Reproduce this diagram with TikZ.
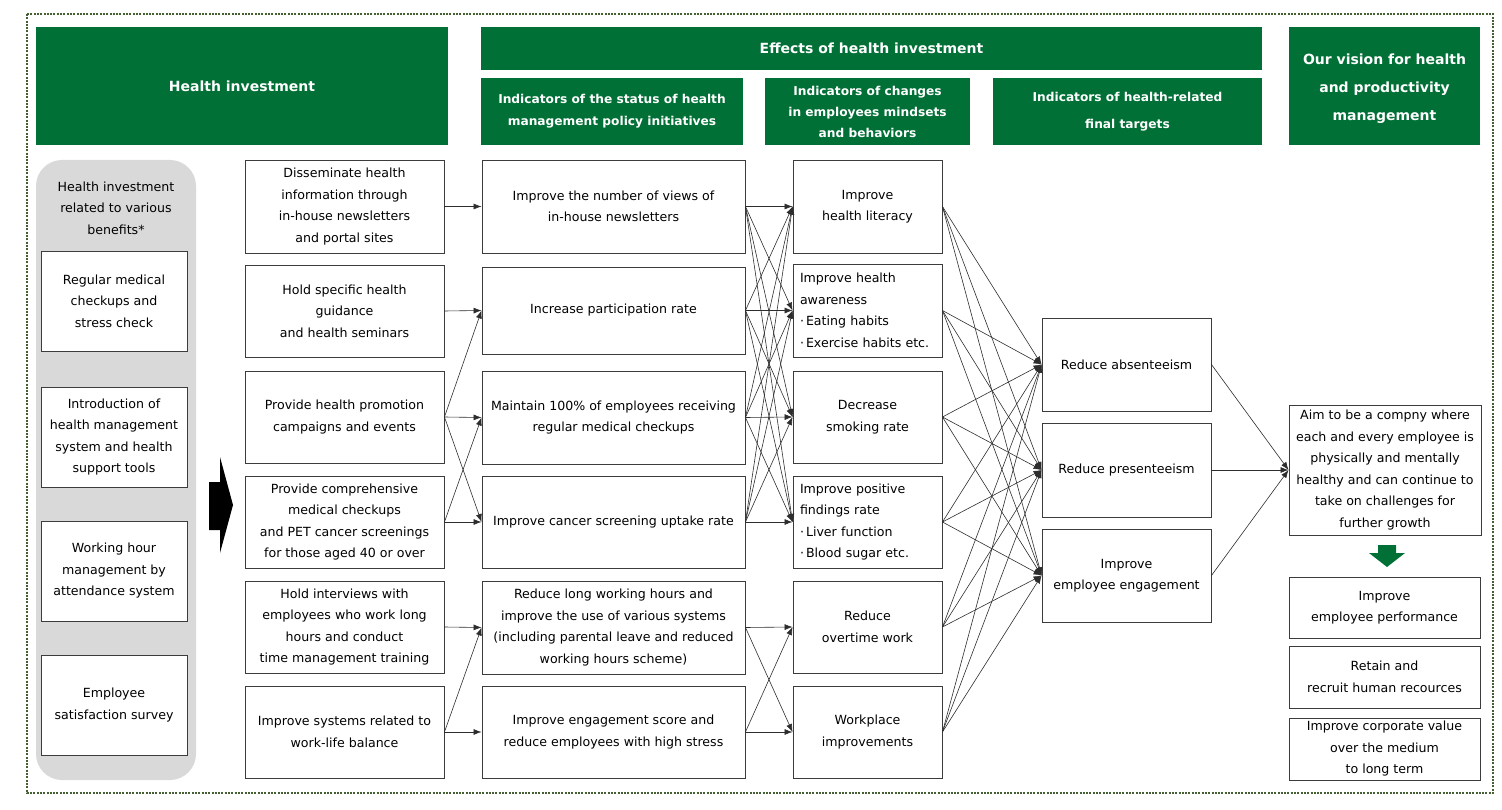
\documentclass[tikz,border=0pt]{standalone}
\usepackage{fontspec}
\setmainfont{DejaVu Sans}
\usetikzlibrary{arrows.meta}
\definecolor{hgreen}{RGB}{0,112,54}
\definecolor{frame}{RGB}{70,95,50}
\definecolor{panelgray}{RGB}{217,217,217}
\definecolor{edge}{RGB}{45,45,45}
\definecolor{boxline}{RGB}{60,60,60}
\begin{document}
\begin{tikzpicture}[x=1pt,y=-1pt,
  txt/.style={font=\fontsize{12.6}{21.5}\selectfont},
  box/.style={draw=boxline,line width=0.9pt,fill=white,inner sep=0pt,align=center,txt},
  lbox/.style={draw=boxline,line width=0.9pt,fill=white,inner xsep=7pt,inner ysep=0pt,align=left,text width=135pt,txt},
  hdr/.style={fill=hgreen,draw=none,text=white,inner sep=0pt,align=center,font=\bfseries\fontsize{14}{28}\selectfont},
  shdr/.style={fill=hgreen,draw=none,text=white,inner sep=0pt,align=center,font=\bfseries\fontsize{12.2}{#1}\selectfont},
  link/.style={draw=edge,line width=0.6pt,-{Latex[length=8pt,width=6pt]}},
]
\useasboundingbox (0,0) rectangle (1502,810);
% outer frame
\draw[frame,line width=2.5pt,dash pattern=on 2pt off 1.3pt] (27,14) rectangle (1493,793);

% headers
\node[hdr,minimum width=412pt,minimum height=118pt] (H1) at (242,86) {Health investment};
\node[hdr,minimum width=781pt,minimum height=43pt] (H2) at (871.5,48.5) {Effects of health investment};
\node[shdr=22,minimum width=262pt,minimum height=67pt] (H3) at (612,111.5) {Indicators of the status of health\\management policy initiatives};
\node[shdr=21,minimum width=205pt,minimum height=67pt] (H4) at (867.5,111.5) {Indicators of changes\\in employees mindsets\\and behaviors};
\node[shdr=27,minimum width=269pt,minimum height=67pt] (H5) at (1127.5,111.5) {Indicators of health-related\\final targets};
\fill[hgreen] (1289,27) rectangle (1480,145);
\node[hdr,fill=none,inner sep=0pt] (H6) at (1384.5,89) {Our vision for health\\and productivity\\management};

% gray panel
\fill[panelgray,rounded corners=26pt] (36,160) rectangle (196,780);
\node[txt,align=center,inner sep=0pt] (ptext) at (116,208) {Health investment\\related to various\\benefits*};
\node[box,minimum width=146pt,minimum height=100pt] (G1) at (114,301) {Regular medical\\checkups and\\stress check};
\node[box,minimum width=146pt,minimum height=100pt] (G2) at (114,437) {Introduction of\\health management\\system and health\\support tools};
\node[box,minimum width=146pt,minimum height=100pt] (G3) at (114,571) {Working hour\\management by\\attendance system};
\node[box,minimum width=146pt,minimum height=100pt] (G4) at (114,705) {Employee\\satisfaction survey};

% black arrow
\fill[black] (209,482) -- (220,482) -- (220,457) -- (233,505) -- (220,553) -- (220,530) -- (209,530) -- cycle;

% column A
\node[box,minimum width=199pt,minimum height=93pt] (A1) at (344.5,206.5) {Disseminate health\\information through\\in-house newsletters\\and portal sites};
\node[box,minimum width=199pt,minimum height=92pt] (A2) at (344.5,311) {Hold specific health\\guidance\\and health seminars};
\node[box,minimum width=199pt,minimum height=92pt] (A3) at (344.5,417) {Provide health promotion\\campaigns and events};
\node[box,minimum width=199pt,minimum height=92pt] (A4) at (344.5,522) {Provide comprehensive\\medical checkups\\and PET cancer screenings\\for those aged 40 or over};
\node[box,minimum width=199pt,minimum height=92pt] (A5) at (344.5,627) {Hold interviews with\\employees who work long\\hours and conduct\\time management training};
\node[box,minimum width=199pt,minimum height=92pt] (A6) at (344.5,732) {Improve systems related to\\work-life balance};

% column B
\node[box,minimum width=263pt,minimum height=93pt] (B1) at (613.5,206.5) {Improve the number of views of\\in-house newsletters};
\node[box,minimum width=263pt,minimum height=87pt] (B2) at (613.5,310.5) {Increase participation rate};
\node[box,minimum width=263pt,minimum height=93pt] (B3) at (613.5,417.5) {Maintain 100\% of employees receiving\\regular medical checkups};
\node[box,minimum width=263pt,minimum height=92pt] (B4) at (613.5,522) {Improve cancer screening uptake rate};
\node[box,minimum width=263pt,minimum height=93pt] (B5) at (613.5,627.5) {Reduce long working hours and\\improve the use of various systems\\(including parental leave and reduced\\working hours scheme)};
\node[box,minimum width=263pt,minimum height=92pt] (B6) at (613.5,732) {Improve engagement score and\\reduce employees with high stress};

% column C
\node[box,minimum width=149pt,minimum height=93pt] (C1) at (867.5,206.5) {Improve\\health literacy};
\node[lbox,minimum height=93pt] (C2) at (867.5,310.5) {Improve health\\awareness\\·\hspace{2pt}Eating habits\\·\hspace{2pt}Exercise habits etc.};
\node[box,minimum width=149pt,minimum height=92pt] (C3) at (867.5,417) {Decrease\\smoking rate};
\node[lbox,minimum height=92pt] (C4) at (867.5,522) {Improve positive\\findings rate\\·\hspace{2pt}Liver function\\·\hspace{2pt}Blood sugar etc.};
\node[box,minimum width=149pt,minimum height=92pt] (C5) at (867.5,627) {Reduce\\overtime work};
\node[box,minimum width=149pt,minimum height=92pt] (C6) at (867.5,732) {Workplace\\improvements};

% column D
\node[box,minimum width=169pt,minimum height=93pt] (D1) at (1126.5,364.5) {Reduce absenteeism};
\node[box,minimum width=169pt,minimum height=94pt] (D2) at (1126.5,470) {Reduce presenteeism};
\node[box,minimum width=169pt,minimum height=93pt] (D3) at (1126.5,575.5) {Improve\\employee engagement};

% column E / F
\node[box,minimum width=192pt,minimum height=130pt] (E) at (1385,470) {Aim to be a compny where\\each and every employee is\\physically and mentally\\healthy and can continue to\\take on challenges for\\further growth};
\fill[hgreen] (1378,545) -- (1396,545) -- (1396,553) -- (1405,553) -- (1387,567) -- (1369,553) -- (1378,553) -- cycle;
\node[box,minimum width=191pt,minimum height=61pt] (F1) at (1384.5,607.5) {Improve\\employee performance};
\node[box,minimum width=191pt,minimum height=62pt] (F2) at (1384.5,677) {Retain and\\recruit human recources};
\node[box,minimum width=191pt,minimum height=62pt] (F3) at (1384.5,749) {Improve corporate value\\over the medium\\to long term};

% A -> B
\draw[link] (A1.east) -- (B1.west);
\draw[link] (A2.east) -- (B2.west);
\draw[link] (A3.east) -- (B2.west);
\draw[link] (A3.east) -- (B3.west);
\draw[link] (A3.east) -- (B4.west);
\draw[link] (A4.east) -- (B3.west);
\draw[link] (A4.east) -- (B4.west);
\draw[link] (A5.east) -- (B5.west);
\draw[link] (A6.east) -- (B5.west);
\draw[link] (A6.east) -- (B6.west);

% B -> C
\foreach \s in {B1,B2,B3,B4}{
  \foreach \t in {C1,C2,C3,C4}{
    \draw[link] (\s.east) -- (\t.west);
  }
}
\draw[link] (B5.east) -- (C5.west);
\draw[link] (B5.east) -- (C6.west);
\draw[link] (B6.east) -- (C5.west);
\draw[link] (B6.east) -- (C6.west);

% C -> D
\foreach \s in {C1,C2,C3,C4,C5,C6}{
  \foreach \t in {D1,D2,D3}{
    \draw[link] (\s.east) -- (\t.west);
  }
}

% D -> E
\foreach \s in {D1,D2,D3}{
  \draw[link] (\s.east) -- (E.west);
}
\end{tikzpicture}
\end{document}
